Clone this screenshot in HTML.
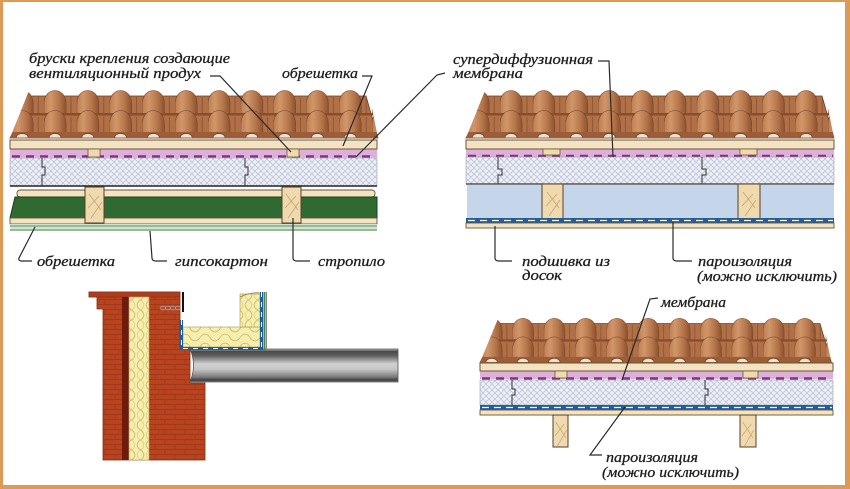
<!DOCTYPE html>
<html><head><meta charset="utf-8">
<style>
html,body{margin:0;padding:0;background:#fff;}
svg{display:block;}
.t{font-family:"Liberation Serif","DejaVu Serif",serif;font-style:italic;font-size:15px;fill:#1e1e1e;stroke:#1e1e1e;stroke-width:0.3;}
.ld{fill:none;stroke:#2a2a2a;stroke-width:1.2;}
</style></head>
<body>
<svg width="850" height="489" viewBox="0 0 850 489" xmlns="http://www.w3.org/2000/svg">
<defs>
  <linearGradient id="humpG" x1="0" y1="0" x2="1" y2="0">
    <stop offset="0" stop-color="#bd7e53"/>
    <stop offset="0.3" stop-color="#d19669"/>
    <stop offset="0.7" stop-color="#b3744a"/>
    <stop offset="1" stop-color="#8e522f"/>
  </linearGradient>
  <pattern id="tileP" width="32.8" height="50" patternUnits="userSpaceOnUse" x="34" y="0">
    <path d="M27,9 V26" stroke="#8a4f2e" stroke-width="0.8"/>
    <path d="M0,16 C0,-2 22,-2 22,16 V26 H0 Z" fill="url(#humpG)" stroke="#7a4426" stroke-width="0.6"/>
    <rect x="0" y="25" width="32.8" height="2.5" fill="#8a4d2c"/>
    <path d="M27,29 V45" stroke="#8a4f2e" stroke-width="0.8"/>
    <path d="M0,36 C0,18 22,18 22,36 V45 H0 Z" fill="url(#humpG)" stroke="#7a4426" stroke-width="0.6"/>
    <rect x="0" y="44" width="32.8" height="6" fill="#9c5d37"/>
    <path d="M5,50 C5,44 17,44 17,50 Z" fill="#f0e2cc" stroke="#6b3a1f" stroke-width="0.7"/>
  </pattern>
  <clipPath id="roofClip"><polygon points="20,0 358,0 368,50 0,50"/></clipPath>
  <g id="roof">
    <polygon points="22,8 356,8 368,50 0,50" fill="#b07048" stroke="#6b3a1f" stroke-width="0.8"/>
    <rect x="0" y="0" width="368" height="50" fill="url(#tileP)" clip-path="url(#roofClip)"/>
  </g>
  <pattern id="hatch" width="6" height="6" patternUnits="userSpaceOnUse">
    <rect width="6" height="6" fill="#eceff6"/>
    <path d="M0,6 L6,0 M0,0 L6,6" stroke="#b8bfd0" stroke-width="0.7"/>
  </pattern>
  <pattern id="wool" width="20" height="9" patternUnits="userSpaceOnUse">
    <rect width="20" height="9" fill="#f6eeac"/>
    <path d="M0,4.5 C3,0 7,0 10,4.5 C13,9 17,9 20,4.5" stroke="#c9b46a" fill="none" stroke-width="0.8"/>
  </pattern>
  <pattern id="woolV" width="9" height="20" patternUnits="userSpaceOnUse" x="1">
    <rect width="9" height="20" fill="#f6eeac"/>
    <path d="M4.5,0 C0,3 0,7 4.5,10 C9,13 9,17 4.5,20" stroke="#c9b46a" fill="none" stroke-width="0.8"/>
    <path d="M4.5,0 C9,3 9,7 4.5,10 C0,13 0,17 4.5,20" stroke="#d6c47e" fill="none" stroke-width="0.6"/>
  </pattern>
  <pattern id="brick" width="20" height="10" patternUnits="userSpaceOnUse">
    <rect width="20" height="10" fill="#b8431f"/>
    <path d="M0,9.5 H20 M0,4.5 H20 M5,0 V4.5 M15,5 V9.5" stroke="#99341a" stroke-width="0.7"/>
  </pattern>
  <linearGradient id="slabG" x1="0" y1="0" x2="0" y2="1">
    <stop offset="0" stop-color="#c8c8c8"/>
    <stop offset="0.07" stop-color="#474747"/>
    <stop offset="0.2" stop-color="#5e5e5e"/>
    <stop offset="0.45" stop-color="#d2d2d2"/>
    <stop offset="0.62" stop-color="#c4c4c4"/>
    <stop offset="0.85" stop-color="#7a7a7a"/>
    <stop offset="0.95" stop-color="#3a3a3a"/>
    <stop offset="1" stop-color="#9a9a9a"/>
  </linearGradient>
  <g id="raf">
    <path d="M2,6 L14,22 M1,20 L12,8 M4,30 L15,14" stroke="#c9a06a" stroke-width="0.7" fill="none"/>
  </g>
</defs>

<!-- frame -->
<rect width="850" height="489" fill="#dc9a55"/>
<rect x="3" y="2" width="842" height="483" fill="#fff"/>

<!-- ============ DIAGRAM A ============ -->
<use href="#roof" transform="translate(10,88)"/>
<rect x="10" y="149" width="367" height="8.5" fill="#ddb0da"/>
<line x1="12" y1="156.5" x2="376" y2="156.5" stroke="#82307f" stroke-width="2.5" stroke-dasharray="8 6"/>
<rect x="10" y="140" width="367" height="9" fill="#f3e3c2" stroke="#6e5535" stroke-width="1"/>
<rect x="88" y="149" width="12" height="8" fill="#efd9ae" stroke="#6e5535" stroke-width="0.8"/>
<rect x="287" y="149" width="12" height="8" fill="#efd9ae" stroke="#6e5535" stroke-width="0.8"/>
<rect x="10" y="158" width="367" height="28" fill="url(#hatch)" stroke="#9aa0ad" stroke-width="0.6"/>
<line x1="10" y1="186" x2="377" y2="186" stroke="#222" stroke-width="1.5"/>
<path d="M42,158 V167 h3 v8 h-3 V186 M245,158 V167 h3 v8 h-3 V186" fill="none" stroke="#333" stroke-width="1"/>
<rect x="17" y="190" width="358" height="7" rx="3" fill="#f3e3c2" stroke="#6e5535" stroke-width="0.9"/>
<polygon points="15,197 377,197 377,218 10,218" fill="#2f6a33" stroke="#1c3f1f" stroke-width="1"/>
<rect x="10" y="218" width="367" height="6" fill="#f3e3c2" stroke="#6e5535" stroke-width="0.9"/>
<rect x="10" y="224" width="367" height="7" fill="#cfe3cf"/>
<line x1="10" y1="226" x2="377" y2="226" stroke="#5f8f66" stroke-width="1"/>
<line x1="10" y1="230" x2="377" y2="230" stroke="#5f8f66" stroke-width="1"/>
<rect x="85" y="187" width="19" height="36" fill="#efd9ae" stroke="#5a4128" stroke-width="1"/>
<use href="#raf" transform="translate(87,188)"/>
<rect x="282" y="187" width="19" height="36" fill="#efd9ae" stroke="#5a4128" stroke-width="1"/>
<use href="#raf" transform="translate(284,188)"/>

<text class="t" x="29" y="63" textLength="201" lengthAdjust="spacingAndGlyphs">бруски крепления создающие</text>
<text class="t" x="29" y="78" textLength="172" lengthAdjust="spacingAndGlyphs">вентиляционный продух</text>
<path class="ld" d="M210,76 H220 L291,152"/>
<text class="t" x="282" y="78" textLength="76" lengthAdjust="spacingAndGlyphs">обрешетка</text>
<path class="ld" d="M362,76 H372 L343,146"/>
<path class="ld" d="M445,73 L437,75 L356,157"/>

<path class="ld" d="M35,227 L19,258 Q18,261 22,261 H32"/>
<text class="t" x="37" y="266" textLength="78" lengthAdjust="spacingAndGlyphs">обрешетка</text>
<path class="ld" d="M150,231 L152,258 Q152,261 156,261 H167"/>
<text class="t" x="175" y="266" textLength="93" lengthAdjust="spacingAndGlyphs">гипсокартон</text>
<path class="ld" d="M293,218 V258 Q293,261 297,261 H310"/>
<text class="t" x="318" y="266" textLength="67" lengthAdjust="spacingAndGlyphs">стропило</text>

<!-- ============ DIAGRAM B ============ -->
<use href="#roof" transform="translate(466,88)"/>
<rect x="466" y="149" width="368" height="8" fill="#ddb0da"/>
<line x1="468" y1="156" x2="833" y2="156" stroke="#82307f" stroke-width="2.5" stroke-dasharray="8 6"/>
<rect x="466" y="140" width="368" height="9" fill="#f3e3c2" stroke="#6e5535" stroke-width="1"/>
<rect x="543" y="149" width="17" height="6" fill="#efd9ae" stroke="#6e5535" stroke-width="0.8"/>
<rect x="740" y="149" width="17" height="6" fill="#efd9ae" stroke="#6e5535" stroke-width="0.8"/>
<rect x="466" y="157" width="368" height="27" fill="url(#hatch)" stroke="#9aa0ad" stroke-width="0.6"/>
<line x1="466" y1="184" x2="834" y2="184" stroke="#333" stroke-width="1.2"/>
<path d="M498,157 V169 h4 v6 h-4 V184 M702,157 V169 h4 v6 h-4 V184" fill="none" stroke="#333" stroke-width="1"/>
<rect x="467" y="185" width="367" height="33" fill="#c6d6ea"/>
<rect x="542" y="184" width="21" height="35" fill="#efd9ae" stroke="#5a4128" stroke-width="1"/>
<use href="#raf" transform="translate(545,186)"/>
<rect x="738" y="184" width="22" height="35" fill="#efd9ae" stroke="#5a4128" stroke-width="1"/>
<use href="#raf" transform="translate(741,186)"/>
<rect x="466" y="218" width="368" height="5" fill="#1f5d9c"/>
<line x1="468" y1="220.5" x2="833" y2="220.5" stroke="#fff" stroke-width="1.3" stroke-dasharray="7 5"/>
<rect x="466" y="223" width="368" height="5" fill="#f3e3c2" stroke="#6e5535" stroke-width="0.9"/>

<text class="t" x="453" y="64" textLength="140" lengthAdjust="spacingAndGlyphs">супердиффузионная</text>
<text class="t" x="453" y="78" textLength="70" lengthAdjust="spacingAndGlyphs">мембрана</text>
<path class="ld" d="M598,61 H609 L613,157"/>
<path class="ld" d="M495,226 V258 Q495,261 499,261 H512"/>
<text class="t" x="522" y="266" textLength="88" lengthAdjust="spacingAndGlyphs">подшивка из</text>
<text class="t" x="522" y="280" textLength="40" lengthAdjust="spacingAndGlyphs">досок</text>
<path class="ld" d="M673,222 V258 Q673,261 677,261 H692"/>
<text class="t" x="698" y="266" textLength="94" lengthAdjust="spacingAndGlyphs">пароизоляция</text>
<text class="t" x="697" y="281" textLength="140" lengthAdjust="spacingAndGlyphs">(можно исключить)</text>

<!-- ============ DIAGRAM C ============ -->
<use href="#roof" transform="translate(480,316) scale(0.955,0.93)"/>
<rect x="480" y="371" width="353" height="8" fill="#ddb0da"/>
<line x1="482" y1="378.5" x2="832" y2="378.5" stroke="#82307f" stroke-width="2.5" stroke-dasharray="8 6"/>
<rect x="480" y="363" width="353" height="8" fill="#f3e3c2" stroke="#6e5535" stroke-width="1"/>
<rect x="555" y="371" width="12" height="7" fill="#efd9ae" stroke="#6e5535" stroke-width="0.8"/>
<rect x="743" y="371" width="15" height="7" fill="#efd9ae" stroke="#6e5535" stroke-width="0.8"/>
<rect x="480" y="380" width="353" height="25" fill="url(#hatch)" stroke="#9aa0ad" stroke-width="0.6"/>
<path d="M512,380 V389 h3 v6 h-3 V405 M705,380 V389 h3 v6 h-3 V405" fill="none" stroke="#333" stroke-width="1"/>
<rect x="480" y="405" width="353" height="5" fill="#1f5d9c"/>
<line x1="482" y1="407.5" x2="832" y2="407.5" stroke="#fff" stroke-width="1.3" stroke-dasharray="7 5"/>
<rect x="480" y="410" width="353" height="5" fill="#f3e3c2" stroke="#6e5535" stroke-width="0.9"/>
<rect x="553" y="415" width="15" height="32" fill="#efd9ae" stroke="#5a4128" stroke-width="1"/>
<use href="#raf" transform="translate(554,416) scale(0.85,1)"/>
<rect x="740" y="415" width="16" height="32" fill="#efd9ae" stroke="#5a4128" stroke-width="1"/>
<use href="#raf" transform="translate(741,416) scale(0.85,1)"/>

<path class="ld" d="M658,298 L650,299 L622,380"/>
<text class="t" x="661" y="307" textLength="65" lengthAdjust="spacingAndGlyphs">мембрана</text>
<path class="ld" d="M625,407 L590,455 H602"/>
<text class="t" x="606" y="462" textLength="92" lengthAdjust="spacingAndGlyphs">пароизоляция</text>
<text class="t" x="602" y="477" textLength="137" lengthAdjust="spacingAndGlyphs">(можно исключить)</text>

<!-- ============ DIAGRAM D (wall) ============ -->
<path d="M89,292 H180 V348 H190 V383 H205 V460 H103 V309 H97 V297 H89 Z" fill="url(#brick)" stroke="#8a2c14" stroke-width="0.8"/>
<rect x="89" y="292" width="91" height="5" fill="#ad3d1c" stroke="#8a2c14" stroke-width="0.6"/>
<rect x="122" y="297" width="7" height="163" fill="#6e1a0c"/>
<rect x="129" y="297" width="20" height="163" fill="url(#woolV)" stroke="#b9a660" stroke-width="0.6"/>
<path d="M190,349 H398 V382 H190 Q197,365 190,349 Z" fill="url(#slabG)" stroke="#555" stroke-width="0.8"/>
<rect x="183" y="327" width="77" height="20" fill="url(#wool)" stroke="#a99650" stroke-width="0.6"/>
<rect x="240" y="294" width="20" height="33" fill="url(#woolV)" stroke="#a99650" stroke-width="0.6"/>
<path d="M240,297 Q250,292 260,293" fill="none" stroke="#8a7a50" stroke-width="0.8"/>
<path d="M181.5,320 V348.5 H261.5 V292" fill="none" stroke="#1f5d9c" stroke-width="3"/>
<path d="M181.5,320 V348.5 H261.5 V292" fill="none" stroke="#fff" stroke-width="1" stroke-dasharray="5 5"/>
<line x1="264.5" y1="292" x2="264.5" y2="350" stroke="#3f8a4a" stroke-width="2"/>
<line x1="266.5" y1="292" x2="266.5" y2="350" stroke="#888" stroke-width="1"/>
<line x1="183" y1="292" x2="183" y2="312" stroke="#111" stroke-width="2"/>
<g fill="none" stroke="#a8a8a8" stroke-width="0.8">
  <ellipse cx="163" cy="308" rx="2.5" ry="1.8"/>
  <ellipse cx="168" cy="308" rx="2.5" ry="1.8"/>
  <ellipse cx="173" cy="308" rx="2.5" ry="1.8"/>
  <ellipse cx="178" cy="308" rx="2.5" ry="1.8"/>
</g>
</svg>
</body></html>
